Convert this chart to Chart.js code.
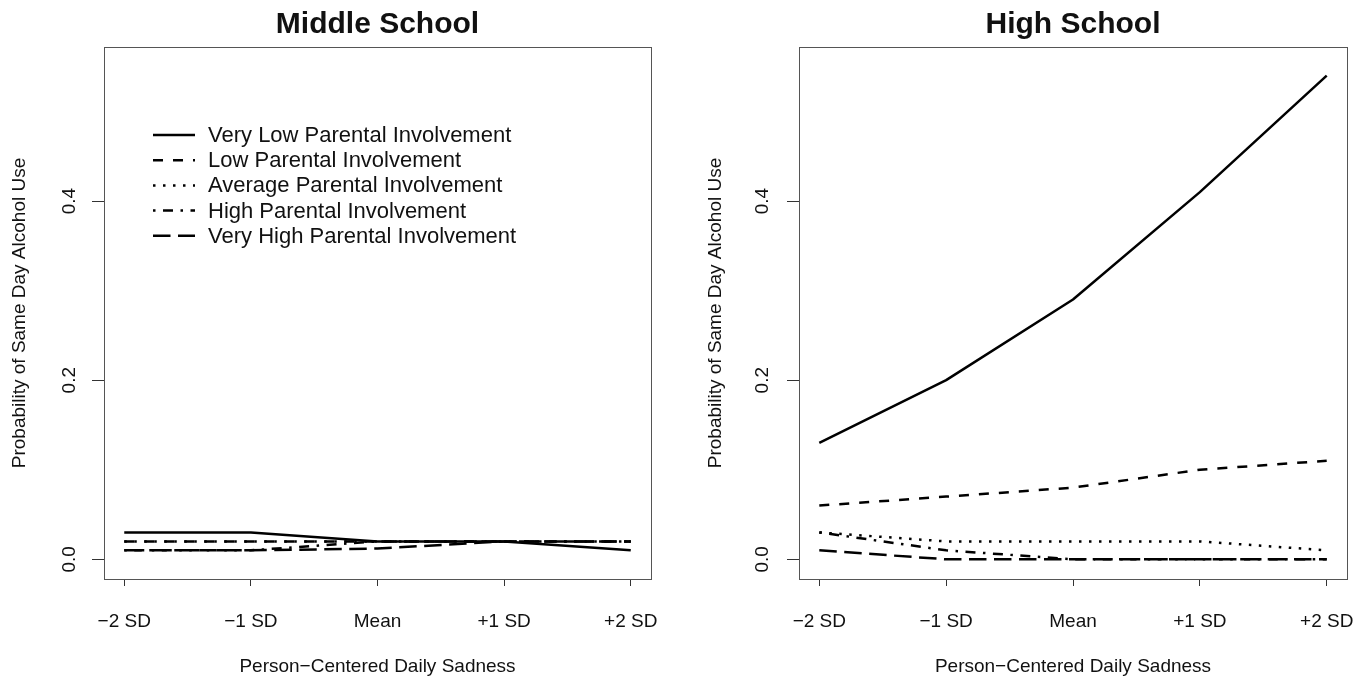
<!DOCTYPE html>
<html><head><meta charset="utf-8">
<script src="https://cdn.jsdelivr.net/npm/chart.js@4/dist/chart.umd.min.js"></script>
<style>
html,body{margin:0;padding:0;background:#fff;}
#wrap{position:relative;width:1371px;height:679px;overflow:hidden;background:#fff;}
.p{position:absolute;top:0;height:679px;}
#w1{left:0;width:695px;}
#w2{left:695px;width:676px;}
</style></head><body>
<div id="wrap">
<div class="p" id="w1"><canvas id="c1" width="695" height="679"></canvas></div>
<div class="p" id="w2"><canvas id="c2" width="676" height="679"></canvas></div>
</div>
<script>
// ---- data ----
const categories = ['\u22122 SD', '\u22121 SD', 'Mean', '+1 SD', '+2 SD'];
const seriesNames = ['Very Low Parental Involvement', 'Low Parental Involvement', 'Average Parental Involvement', 'High Parental Involvement', 'Very High Parental Involvement'];
const panelTitles = ['Middle School', 'High School'];
const xTitle = 'Person\u2212Centered Daily Sadness';
const yTitle = 'Probability of Same Day Alcohol Use';
const yTicks = [0.0, 0.2, 0.4];

const middleVeryLow  = [0.03, 0.03, 0.02, 0.02, 0.01];
const middleLow      = [0.02, 0.02, 0.02, 0.02, 0.02];
const middleAverage  = [0.02, 0.02, 0.02, 0.02, 0.02];
const middleHigh     = [0.01, 0.01, 0.02, 0.02, 0.02];
const middleVeryHigh = [0.01, 0.01, 0.012, 0.02, 0.02];

const highVeryLow  = [0.13, 0.20, 0.29, 0.41, 0.54];
const highLow      = [0.06, 0.07, 0.08, 0.10, 0.11];
const highAverage  = [0.03, 0.02, 0.02, 0.02, 0.01];
const highHigh     = [0.03, 0.01, 0.00, 0.00, 0.00];
const highVeryHigh = [0.01, 0.00, 0.00, 0.00, 0.00];

// ---- styles ----
const FONT = '"Liberation Sans", Arial, Helvetica, sans-serif';
const dashes = [[], [10, 10], [2.5, 7.5], [2.5, 7.5, 10, 7.5], [17.5, 7.5]];
const LW = 2.5;

Chart.defaults.font.family = FONT;
Chart.defaults.color = '#111';

function makeDatasets(series) {
  return series.map((vals, k) => ({
    label: seriesNames[k],
    data: vals.map((v, i) => ({x: i - 2, y: v})),
    borderColor: '#000',
    borderWidth: LW,
    borderDash: dashes[k],
    borderCapStyle: 'butt',
    borderJoinStyle: 'round',
    pointRadius: 0,
    tension: 0,
    fill: false
  }));
}

const framePlugin = {
  id: 'frame',
  afterDraw(chart, args, opts) {
    const {ctx, chartArea: ca} = chart;
    ctx.save();
    ctx.strokeStyle = '#555';
    ctx.lineWidth = 1;
    ctx.setLineDash([]);
    ctx.strokeRect(Math.round(ca.left) + 0.5, Math.round(ca.top) + 0.5, Math.round(ca.right - ca.left), Math.round(ca.bottom - ca.top));
    ctx.fillStyle = '#111';
    ctx.font = 'bold 30px ' + FONT;
    ctx.textAlign = 'center';
    ctx.textBaseline = 'alphabetic';
    ctx.fillText(opts.title, (ca.left + ca.right) / 2, 33);
    if (opts.legend) {
      ctx.font = '22px ' + FONT;
      ctx.textAlign = 'left';
      ctx.textBaseline = 'middle';
      chart.data.datasets.forEach((ds, k) => {
        const y = 135 + k * 25.2;
        ctx.strokeStyle = '#000';
        ctx.lineWidth = LW;
        ctx.lineCap = 'butt';
        ctx.setLineDash(ds.borderDash);
        ctx.beginPath();
        ctx.moveTo(153, y);
        ctx.lineTo(195, y);
        ctx.stroke();
        ctx.setLineDash([]);
        ctx.fillText(ds.label, 208, y + 1);
      });
    }
    ctx.restore();
  }
};

function makeChart(id, series, title, legend, rightPad, yTitlePad, yTickPad) {
  return new Chart(document.getElementById(id), {
    type: 'line',
    data: {datasets: makeDatasets(series)},
    plugins: [framePlugin],
    options: {
      responsive: false,
      animation: false,
      devicePixelRatio: 1,
      layout: {padding: {top: 47, right: rightPad, left: 0, bottom: 0}},
      plugins: {legend: {display: false}, tooltip: {enabled: false}, title: {display: false},
        frame: {title: title, legend: legend}},
      scales: {
        x: {
          type: 'linear', min: -2.16, max: 2.16,
          afterBuildTicks: s => { s.ticks = categories.map((c, i) => ({value: i - 2})); },
          afterFit: s => { s.height = 100; s.paddingLeft = 0; s.paddingRight = 0; },
          ticks: {callback: v => categories[Math.round(v) + 2], font: {size: 19}, color: '#111', padding: 24, maxRotation: 0, minRotation: 0, autoSkip: false},
          grid: {display: true, drawOnChartArea: false, drawTicks: true, tickLength: 7, color: '#333', lineWidth: 1},
          border: {display: false},
          title: {display: true, text: xTitle, font: {size: 19}, color: '#111', padding: {top: 0, bottom: 1}}
        },
        y: {
          type: 'linear', min: -0.022, max: 0.572,
          afterBuildTicks: s => { s.ticks = yTicks.map(v => ({value: v})); },
          afterFit: s => { s.width = 104; s.paddingTop = 0; s.paddingBottom = 0; },
          ticks: {callback: v => v.toFixed(1), font: {size: 19}, color: '#111', padding: yTickPad, minRotation: 90, maxRotation: 90, crossAlign: 'center', autoSkip: false},
          grid: {display: true, drawOnChartArea: false, drawTicks: true, tickLength: 12, color: '#333', lineWidth: 1},
          border: {display: false},
          title: {display: true, text: yTitle, font: {size: 19}, color: '#111', padding: {top: yTitlePad, bottom: 0}}
        }
      }
    }
  });
}

makeChart('c1', [middleVeryLow, middleLow, middleAverage, middleHigh, middleVeryHigh], panelTitles[0], true, 44, 8, 9);
makeChart('c2', [highVeryLow, highLow, highAverage, highHigh, highVeryHigh], panelTitles[1], false, 24, 9, 11);
</script>
</body></html>
